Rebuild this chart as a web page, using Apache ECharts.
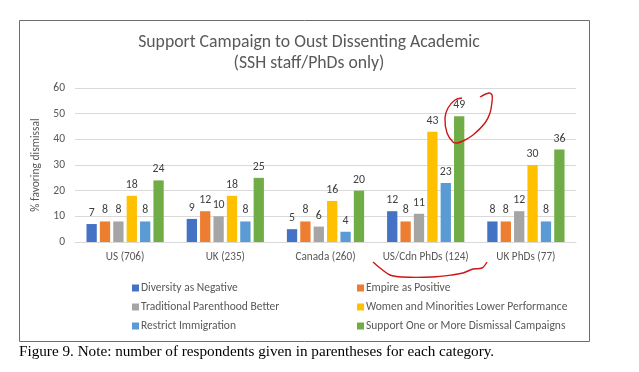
<!DOCTYPE html>
<html><head><meta charset="utf-8">
<script src="https://cdn.jsdelivr.net/npm/echarts@6/dist/echarts.min.js"></script>
<style>html,body{margin:0;padding:0;background:#fff}#c{width:639px;height:372px}</style>
</head><body><div id="c"></div>
<script>
var categories = ['US (706)', 'UK (235)', 'Canada (260)', 'US/Cdn PhDs (124)', 'UK PhDs (77)'];
var seriesNames = ['Diversity as Negative', 'Empire as Positive', 'Traditional Parenthood Better',
  'Women and Minorities Lower Performance', 'Restrict Immigration', 'Support One or More Dismissal Campaigns'];
var diversityNegative = [7, 9, 5, 12, 8];
var empirePositive = [8, 12, 8, 8, 8];
var traditionalParenthood = [8, 10, 6, 11, 12];
var womenMinorities = [18, 18, 16, 43, 30];
var restrictImmigration = [8, 8, 4, 23, 8];
var supportDismissal = [24, 25, 20, 49, 36];
var yTicks = [0, 10, 20, 30, 40, 50, 60];

var colors = ['#4472C4', '#ED7D31', '#A5A5A5', '#FFC000', '#5B9BD5', '#70AD47'];
var values = [diversityNegative, empirePositive, traditionalParenthood, womenMinorities, restrictImmigration, supportDismissal];
var FONT = 'Carlito, "DejaVu Sans Condensed", sans-serif';

var series = seriesNames.map(function (n, i) {
  return {
    name: n, type: 'bar', data: values[i], barWidth: 10.3, barGap: '30%',
    itemStyle: { color: colors[i] },
    label: { show: true, position: 'top', distance: 5, color: '#404040', fontSize: 11.8, fontFamily: FONT },
    animation: false
  };
});

var chart = echarts.init(document.getElementById('c'), null, { renderer: 'canvas' });
chart.setOption({
  animation: false,
  color: colors,
  title: {
    text: 'Support Campaign to Oust Dissenting Academic\n(SSH staff/PhDs only)',
    left: 304, top: 27, textAlign: 'center',
    textStyle: { color: '#595959', fontSize: 17.7, fontWeight: 'normal', fontFamily: FONT, lineHeight: 21 }
  },
  grid: { left: 75, right: 63, top: 88, bottom: 130, containLabel: false },
  xAxis: {
    type: 'category', data: categories,
    axisLine: { lineStyle: { color: '#D9D9D9' } },
    axisTick: { show: false },
    axisLabel: { color: '#595959', fontSize: 11.2, fontFamily: FONT, margin: 10, interval: 0 }
  },
  yAxis: {
    type: 'value', min: yTicks[0], max: yTicks[yTicks.length - 1], interval: 10,
    name: '% favoring dismissal', nameLocation: 'middle', nameGap: 30, nameRotate: 90,
    nameTextStyle: { color: '#595959', fontSize: 11.5, fontFamily: FONT },
    axisLine: { show: false }, axisTick: { show: false },
    axisLabel: { color: '#595959', fontSize: 11.5, fontFamily: FONT, margin: 10 },
    splitLine: { lineStyle: { color: '#D9D9D9' } }
  },
  legend: [
    { data: [seriesNames[0], seriesNames[2], seriesNames[4]], orient: 'vertical', left: 127, top: 277,
      itemWidth: 7, itemHeight: 7, itemGap: 7, icon: 'rect',
      textStyle: { color: '#595959', fontSize: 11.5, fontFamily: FONT, padding: [0, 0, 0, -3] } },
    { data: [seriesNames[1], seriesNames[3], seriesNames[5]], orient: 'vertical', left: 352, top: 277,
      itemWidth: 7, itemHeight: 7, itemGap: 7, icon: 'rect',
      textStyle: { color: '#595959', fontSize: 11.5, fontFamily: FONT, padding: [0, 0, 0, -3] } }
  ],
  graphic: [
    { type: 'rect', shape: { x: 19.5, y: 20.5, width: 570, height: 321 }, style: { fill: 'none', stroke: '#6E6E6E', lineWidth: 1 }, z: 10 },
    { type: 'text', left: 19, top: 345, style: { text: 'Figure 9. Note: number of respondents given in parentheses for each category.', font: '15.2px "Liberation Serif", "Times New Roman", serif', fill: '#000' } },
    { type: 'polyline', shape: { smooth: 0.35, points: [[480, 97], [489, 93], [492, 95], [492, 102], [490, 113], [485, 123], [473, 135], [463, 141], [457, 143], [453, 142], [447, 133], [445, 118], [448, 108], [455, 100], [462, 98]] },
      style: { stroke: '#D01515', lineWidth: 1.4, fill: 'none' }, z: 20 },
    { type: 'polyline', shape: { smooth: 0.35, points: [[373, 262], [380, 268], [390, 275], [402, 277], [432, 277], [452, 275], [463, 273], [468, 271], [473, 269], [482, 268], [487, 262]] },
      style: { stroke: '#D01515', lineWidth: 1.4, fill: 'none' }, z: 20 }
  ],
  series: series
});
</script></body></html>
